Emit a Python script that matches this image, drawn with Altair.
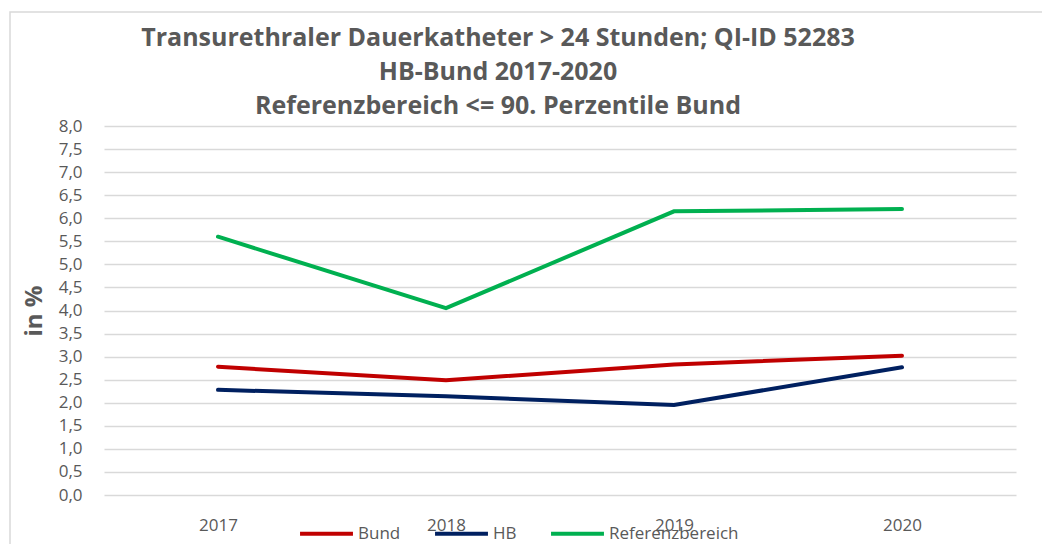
import altair as alt
import pandas as pd

years = ["2017", "2018", "2019", "2020"]
bund = [2.78, 2.49, 2.83, 3.02]
hb = [2.28, 2.14, 1.95, 2.77]
referenz = [5.60, 4.05, 6.15, 6.20]
series_names = ["Bund", "HB", "Referenzbereich"]
colors = ["#C00000", "#002060", "#00B050"]
title_lines = ["Transurethraler Dauerkatheter > 24 Stunden; QI-ID 52283",
               "HB-Bund 2017-2020",
               "Referenzbereich <= 90. Perzentile Bund"]

rows = []
for name, vals in zip(series_names, [bund, hb, referenz]):
    for y, v in zip(years, vals):
        rows.append({"Jahr": y, "Wert": v, "Serie": name})
df = pd.DataFrame(rows)

font = "Open Sans"
grey = "#595959"

lines = alt.Chart(df).mark_line(strokeWidth=4, strokeCap="round").encode(
    x=alt.X("Jahr:N", sort=years, title=None,
            scale=alt.Scale(paddingInner=0, paddingOuter=0.5, align=0.5),
            axis=alt.Axis(labelAngle=0, labelFontSize=17, labelColor=grey, labelFont=font,
                          ticks=False, domain=False, labelPadding=22, grid=False)),
    y=alt.Y("Wert:Q", title="in %",
            scale=alt.Scale(domain=[0, 8], nice=False),
            axis=alt.Axis(values=[i * 0.5 for i in range(17)],
                          labelExpr="replace(format(datum.value, '.1f'), '.', ',')",
                          labelFontSize=17, labelColor=grey, labelFont=font,
                          ticks=False, domain=False, labelPadding=22,
                          gridColor="#d9d9d9", gridWidth=1.5,
                          titleFontSize=24, titleFont=font, titleColor=grey,
                          titleFontWeight="bold", titlePadding=12)),
    color=alt.Color("Serie:N", sort=series_names,
                    scale=alt.Scale(domain=series_names, range=colors),
                    legend=alt.Legend(title=None, orient="none", direction="horizontal",
                                      legendX=194, legendY=379,
                                      symbolType="stroke", symbolStrokeWidth=4,
                                      symbolSize=2800, labelFontSize=17, labelColor=grey,
                                      labelFont=font, columnPadding=26, labelOffset=3,
                                      padding=0)),
)

frame = alt.Chart(pd.DataFrame({"a": [0]})).mark_rect(
    fill=None, stroke="#d9d9d9", strokeWidth=1.5
).encode(x=alt.value(-94), x2=alt.value(960), y=alt.value(-114), y2=alt.value(480))

title_layers = [
    alt.Chart(pd.DataFrame({"t": [t]})).mark_text(
        font=font, fontSize=25, fontWeight="bold", color=grey,
        align="center", baseline="middle"
    ).encode(text="t:N", x=alt.value(394), y=alt.value(yy))
    for t, yy in zip(title_lines, [-88, -54, -20])
]

chart = alt.layer(frame, lines, *title_layers).properties(
    width=912, height=369,
    padding={"left": 96, "top": 118, "right": 26, "bottom": 49},
    autosize=alt.AutoSizeParams(type="none"),
).configure_view(stroke=None)

chart.save("out.html", embed_options={"renderer": "svg", "actions": False})
